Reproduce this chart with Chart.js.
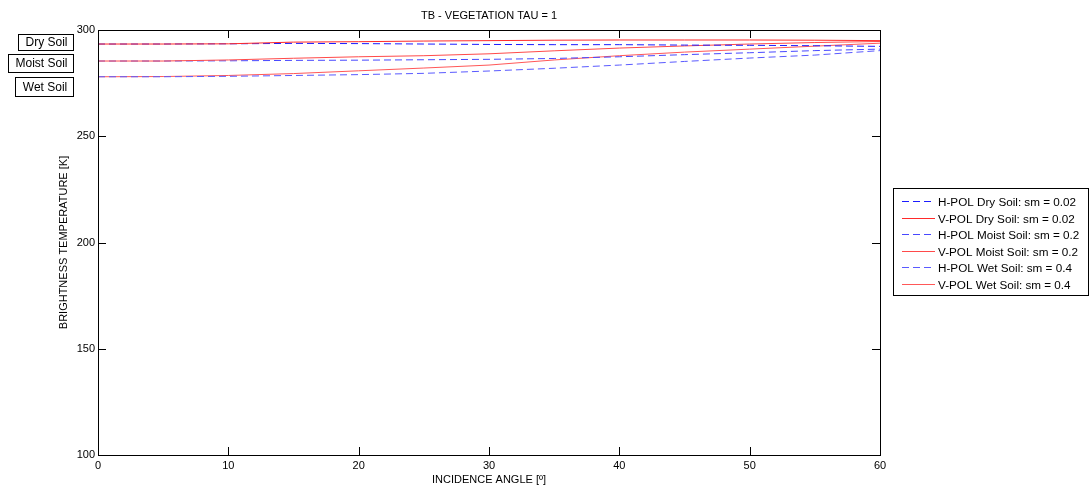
<!DOCTYPE html>
<html>
<head>
<meta charset="utf-8">
<title>TB - VEGETATION TAU = 1</title>
<script src="https://cdn.jsdelivr.net/npm/chart.js@4/dist/chart.umd.min.js"></script>
<style>
html, body { margin: 0; padding: 0; background: #fff; }
#wrap { width: 1089px; height: 491px; position: relative; }
</style>
</head>
<body>
<div id="wrap"><canvas id="tb"></canvas></div>
<script>
// incidence angle [deg]
var angles = [0, 5, 10, 15, 20, 25, 30, 35, 40, 45, 50, 55, 60];

// brightness temperature [K]
var hDry   = [293.4, 293.4, 293.5, 293.7, 293.6, 293.4, 293.2, 293.1, 293.1, 292.9, 292.8, 292.6, 292.3];
var vDry   = [293.4, 293.4, 293.5, 294.3, 294.5, 294.8, 295.0, 295.2, 295.3, 295.3, 295.3, 295.2, 295.0];
var hMoist = [285.4, 285.4, 285.5, 285.7, 285.8, 286.0, 286.2, 286.6, 287.4, 288.4, 289.3, 290.3, 291.0];
var vMoist = [285.4, 285.4, 285.9, 286.7, 287.4, 287.9, 288.8, 290.2, 291.5, 292.5, 293.4, 294.1, 294.6];
var hWet   = [278.0, 278.0, 278.2, 278.6, 279.0, 279.6, 280.7, 282.0, 283.5, 285.2, 286.8, 288.2, 290.3];
var vWet   = [278.0, 278.1, 278.6, 279.5, 280.8, 282.1, 283.5, 285.9, 287.9, 289.6, 291.0, 292.4, 293.8];

var seriesLabels = [
	'H-POL Dry Soil: sm = 0.02',
	'V-POL Dry Soil: sm = 0.02',
	'H-POL Moist Soil: sm = 0.2',
	'V-POL Moist Soil: sm = 0.2',
	'H-POL Wet Soil: sm = 0.4',
	'V-POL Wet Soil: sm = 0.4'
];
var soilLabels = ['Dry Soil', 'Moist Soil', 'Wet Soil'];
var xTicks = [0, 10, 20, 30, 40, 50, 60];
var yTicks = [100, 150, 200, 250, 300];

(function () {

var FONT = "'Liberation Sans', Arial, Helvetica, sans-serif";
var colors = ['#1c1cff', '#ff2a2a', '#4848ff', '#ff4a4a', '#5a5aff', '#ff5858'];
var dashed = [true, false, true, false, true, false];
var order = [2, 1, 4, 3, 5, 6];
var values = [hDry, vDry, hMoist, vMoist, hWet, vWet];

function toPoints(list) {
	var pts = [];
	for (var i = 0, len = angles.length; i < len; i++) {
		pts.push({ x: angles[i], y: list[i] });
	}
	return pts;
}

function buildDatasets() {
	var data = [];
	for (var i = 0, len = values.length; i < len; i++) {
		data.push({
			label: seriesLabels[i],
			data: toPoints(values[i]),
			borderColor: colors[i],
			backgroundColor: colors[i],
			borderWidth: 1,
			borderDash: dashed[i] ? [7, 4] : [],
			pointRadius: 0,
			tension: 0,
			order: order[i]
		});
	}
	return data;
}

// matlab-ish frame: box, inward ticks, title, text boxes, legend
var figurePlugin = {
	id: 'figure',
	beforeDraw: function (chart) {
		var ctx = chart.ctx;
		ctx.save();
		ctx.fillStyle = '#fff';
		ctx.fillRect(0, 0, chart.width, chart.height);
		ctx.restore();
	},
	afterDraw: function (chart) {
		var ctx = chart.ctx;
		var a = chart.chartArea;
		var xs = chart.scales.x;
		var ys = chart.scales.y;
		var i, p;
		ctx.save();
		ctx.strokeStyle = '#000';
		ctx.lineWidth = 1;
		ctx.strokeRect(Math.round(a.left) + 0.5, Math.round(a.top) + 0.5,
			Math.round(a.right - a.left), Math.round(a.bottom - a.top));

		ctx.beginPath();
		for (i = 0; i < xTicks.length; i++) {
			p = Math.round(xs.getPixelForValue(xTicks[i])) + 0.5;
			ctx.moveTo(p, a.bottom);
			ctx.lineTo(p, a.bottom - 8);
			ctx.moveTo(p, a.top);
			ctx.lineTo(p, a.top + 8);
		}
		for (i = 0; i < yTicks.length; i++) {
			p = Math.round(ys.getPixelForValue(yTicks[i])) + 0.5;
			ctx.moveTo(a.left, p);
			ctx.lineTo(a.left + 8, p);
			ctx.moveTo(a.right, p);
			ctx.lineTo(a.right - 8, p);
		}
		ctx.stroke();

		// title
		ctx.fillStyle = '#000';
		ctx.font = '11px ' + FONT;
		ctx.textAlign = 'center';
		ctx.textBaseline = 'middle';
		ctx.fillText('TB - VEGETATION TAU = 1', (a.left + a.right) / 2, 16);

		// soil labels
		var boxes = [
			{ l: 18, t: 34, r: 73, b: 50 },
			{ l: 8, t: 54, r: 73, b: 72 },
			{ l: 15, t: 77, r: 73, b: 96 }
		];
		ctx.font = '12px ' + FONT;
		for (i = 0; i < boxes.length; i++) {
			var bx = boxes[i];
			ctx.strokeRect(bx.l + 0.5, bx.t + 0.5, bx.r - bx.l, bx.b - bx.t);
			ctx.fillText(soilLabels[i], (bx.l + bx.r) / 2 + 1, (bx.t + bx.b) / 2 + 1);
		}

		// legend
		var lx = 893, ly = 188, lw = 195, lh = 107;
		ctx.fillStyle = '#fff';
		ctx.fillRect(lx, ly, lw, lh);
		ctx.strokeStyle = '#000';
		ctx.strokeRect(lx + 0.5, ly + 0.5, lw, lh);
		ctx.font = '11.7px ' + FONT;
		ctx.textAlign = 'left';
		for (i = 0; i < seriesLabels.length; i++) {
			var ry = Math.round(ly + 13 + i * 16.6) + 0.5;
			ctx.strokeStyle = colors[i];
			ctx.setLineDash(dashed[i] ? [7, 4] : []);
			ctx.beginPath();
			ctx.moveTo(902, ry);
			ctx.lineTo(935, ry);
			ctx.stroke();
			ctx.setLineDash([]);
			ctx.fillStyle = '#000';
			ctx.fillText(seriesLabels[i], 938, ry + 1);
		}
		ctx.restore();
	}
};

var chart = new Chart(document.getElementById('tb'), {
	type: 'line',
	data: { datasets: buildDatasets() },
	options: {
		responsive: true,
		maintainAspectRatio: false,
		animation: false,
		layout: { padding: { left: 0, right: 209, top: 30, bottom: 0 } },
		plugins: {
			legend: { display: false },
			title: { display: false },
			tooltip: { enabled: false }
		},
		scales: {
			x: {
				type: 'linear',
				min: 0,
				max: 60,
				afterBuildTicks: function (scale) {
					scale.ticks = xTicks.map(function (v) { return { value: v }; });
				},
				afterFit: function (scale) { scale.height = 36; },
				grid: { display: false, drawTicks: false },
				border: { display: false },
				ticks: { color: '#000', padding: 4, font: { family: FONT, size: 11 }, maxRotation: 0 },
				title: {
					display: true,
					text: 'INCIDENCE ANGLE [º]',
					color: '#000',
					font: { family: FONT, size: 11 },
					padding: { top: 0, bottom: 4 }
				}
			},
			y: {
				type: 'linear',
				min: 100,
				max: 300,
				afterBuildTicks: function (scale) {
					scale.ticks = yTicks.map(function (v) { return { value: v }; });
				},
				afterFit: function (scale) { scale.width = 98; },
				grid: { display: false, drawTicks: false },
				border: { display: false },
				ticks: { color: '#000', padding: 3, font: { family: FONT, size: 11 } },
				title: {
					display: true,
					text: 'BRIGHTNESS TEMPERATURE [K]',
					color: '#000',
					font: { family: FONT, size: 11 },
					padding: { top: 57, bottom: 0 }
				}
			}
		}
	},
	plugins: [figurePlugin]
});

}());
</script>
</body>
</html>
